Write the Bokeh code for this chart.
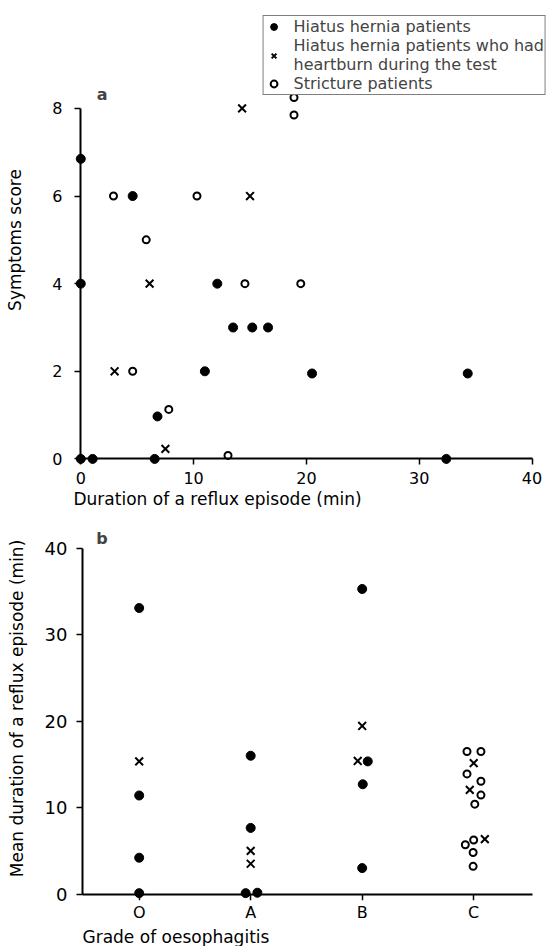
from bokeh.plotting import figure
from bokeh.models import Range1d, FixedTicker, Legend, LegendItem, Label, LinearAxis, Title
from bokeh.layouts import column
from bokeh.embed import file_html
from bokeh.resources import INLINE

FONT = "DejaVu Sans"

# ---- Panel a: symptoms score vs duration of a reflux episode (min)
hh_dur = [0, 4.6, 0, 12.1, 13.5, 15.2, 16.6, 11.0, 20.5, 34.3, 6.8, 0, 1.05, 6.55, 32.4]
hh_score = [6.85, 6, 4, 4, 3, 3, 3, 2, 1.95, 1.95, 0.97, 0, 0, 0, 0]
hb_dur = [14.3, 15.0, 6.1, 3.0, 7.5]
hb_score = [8, 6, 4, 2, 0.23]
st_dur = [18.9, 18.9, 2.9, 10.3, 5.8, 14.55, 19.5, 4.6, 7.8, 13.05]
st_score = [8.25, 7.85, 6, 6, 5.0, 4, 4, 2, 1.13, 0.08]
a_xticks = [0, 10, 20, 30, 40]
a_yticks = [0, 2, 4, 6, 8]

# ---- Panel b: mean duration of a reflux episode vs grade of oesophagitis
grade_labels = ["O", "A", "B", "C"]
grade_pos = [1, 2, 3, 4]
b_hh_grade = [1, 1, 1, 1, 2, 2, 1.955, 2.06, 3, 3.05, 3.005, 3]
b_hh_dur = [33.1, 11.4, 4.2, 0.1, 16.0, 7.65, 0.1, 0.15, 35.3, 15.35, 12.7, 3.0]
b_hb_grade = [1, 2, 2, 3, 2.96, 4.0, 3.965, 4.1]
b_hb_dur = [15.35, 5.0, 3.5, 19.45, 15.4, 15.15, 12.05, 6.35]
b_st_grade = [3.94, 4.065, 3.94, 4.065, 4.065, 4.01, 4.0, 3.925, 3.995, 3.995]
b_st_dur = [16.5, 16.5, 13.9, 13.05, 11.45, 10.4, 6.25, 5.7, 4.8, 3.2]
b_yticks = [0, 10, 20, 30, 40]


def base_style(p):
    p.grid.visible = False
    p.outline_line_color = None
    p.background_fill_color = "white"


def rule_axis(ax, ticks, bounds, loc):
    # default axis moved to a data position: line and outward ticks, no labels
    ax.ticker = FixedTicker(ticks=ticks)
    ax.bounds = bounds
    ax.fixed_location = loc
    ax.axis_line_width = 2
    ax.axis_line_color = "black"
    ax.major_tick_line_width = 1.5
    ax.major_tick_line_color = "black"
    ax.major_tick_out = 0
    ax.major_tick_in = -6
    ax.minor_tick_out = 0
    ax.minor_tick_in = 0
    ax.major_label_standoff = 0
    ax.major_label_text_font_size = "1px"
    ax.major_label_text_color = None


def label_axis(ticks, bounds, tick_size, standoff, overrides=None):
    # axis at the frame edge carrying only the tick labels
    ax = LinearAxis(ticker=FixedTicker(ticks=ticks), bounds=bounds,
                    axis_line_color=None, major_tick_line_color=None, minor_tick_line_color=None,
                    major_tick_out=0, major_tick_in=0, minor_tick_out=0, minor_tick_in=0,
                    major_label_standoff=standoff, major_label_text_font=FONT,
                    major_label_text_font_size=tick_size, major_label_text_color="black")
    if overrides:
        ax.major_label_overrides = overrides
    return ax


def y_title(ax, text, standoff):
    ax.axis_label = text
    ax.axis_label_standoff = standoff
    ax.axis_label_text_font = FONT
    ax.axis_label_text_font_size = "17px"
    ax.axis_label_text_font_style = "normal"
    ax.axis_label_text_color = "black"


def x_title(text, offset, standoff):
    return Title(text=text, align="left", offset=offset, standoff=standoff,
                 text_font=FONT, text_font_size="17px", text_font_style="normal",
                 text_color="black")


# ================= Panel a =================
p1 = figure(frame_width=478, frame_height=451,
            x_range=Range1d(-1, 41.37), y_range=Range1d(-0.15, 10.144),
            min_border_left=69, min_border_right=0, min_border_top=14, min_border_bottom=46,
            output_backend="svg", toolbar_location=None)
base_style(p1)
rule_axis(p1.xaxis[0], a_xticks, (0, 40), 0)
rule_axis(p1.yaxis[0], a_yticks, (0, 8), 0)
lx1 = label_axis(a_xticks, (0, 40), "16px", 6)
ly1 = label_axis(a_yticks, (0, 8), "16px", 7)
y_title(ly1, "Symptoms score", 24)
p1.add_layout(lx1, "below")
p1.add_layout(ly1, "left")
p1.add_layout(x_title("Duration of a reflux episode (min)", 4, 0), "below")

r_hh = p1.scatter(hh_dur, hh_score, marker="circle", size=9, fill_color="black", line_color="black")
r_hb = p1.scatter(hb_dur, hb_score, marker="x", size=11, line_color="black", line_width=2)
r_st = p1.scatter(st_dur, st_score, marker="circle", size=7, fill_color="white",
                  line_color="black", line_width=2)

legend = Legend(items=[
    LegendItem(label="Hiatus hernia patients", renderers=[r_hh]),
    LegendItem(label="Hiatus hernia patients who had\nheartburn during the test", renderers=[r_hb]),
    LegendItem(label="Stricture patients", renderers=[r_st]),
], location="top_right")
legend.margin = 1
legend.padding = 1
legend.spacing = 0
legend.glyph_width = 18
legend.glyph_height = 17
legend.label_height = 17
legend.label_standoff = 11
legend.label_text_font = FONT
legend.label_text_font_size = "16px"
legend.label_text_line_height = 1.0
legend.border_line_color = "black"
legend.border_line_width = 1.5
legend.background_fill_color = "white"
legend.background_fill_alpha = 1.0
p1.add_layout(legend)

p1.add_layout(Label(x=1.9, y=8.31, text="a", text_font=FONT, text_font_size="16px",
                    text_font_style="bold", text_align="center", text_baseline="middle"))

# ================= Panel b =================
p2 = figure(frame_width=478, frame_height=384,
            x_range=Range1d(0.375, 4.662), y_range=Range1d(-0.75, 43.69),
            min_border_left=69, min_border_right=0, min_border_top=5, min_border_bottom=42,
            output_backend="svg", toolbar_location=None)
base_style(p2)
rule_axis(p2.xaxis[0], grade_pos, (0.49, 4.53), 0)
rule_axis(p2.yaxis[0], b_yticks, (0, 40), 0.49)
lx2 = label_axis(grade_pos, (0.49, 4.53), "16px", 2,
                 overrides={pos: lab for pos, lab in zip(grade_pos, grade_labels)})
ly2 = label_axis(b_yticks, (0, 40), "18px", 2)
y_title(ly2, "Mean duration of a reflux episode (min)", 15)
p2.add_layout(lx2, "below")
p2.add_layout(ly2, "left")
p2.add_layout(x_title("Grade of oesophagitis", 13, 0), "below")

p2.scatter(b_hh_grade, b_hh_dur, marker="circle", size=9, fill_color="black", line_color="black")
p2.scatter(b_hb_grade, b_hb_dur, marker="x", size=11, line_color="black", line_width=2)
p2.scatter(b_st_grade, b_st_dur, marker="circle", size=7, fill_color="white",
           line_color="black", line_width=2)

p2.add_layout(Label(x=0.666, y=41.2, text="b", text_font=FONT, text_font_size="16px",
                    text_font_style="bold", text_align="center", text_baseline="middle"))

layout = column(p1, p2)
open("out.html", "w").write(file_html(layout, INLINE))
